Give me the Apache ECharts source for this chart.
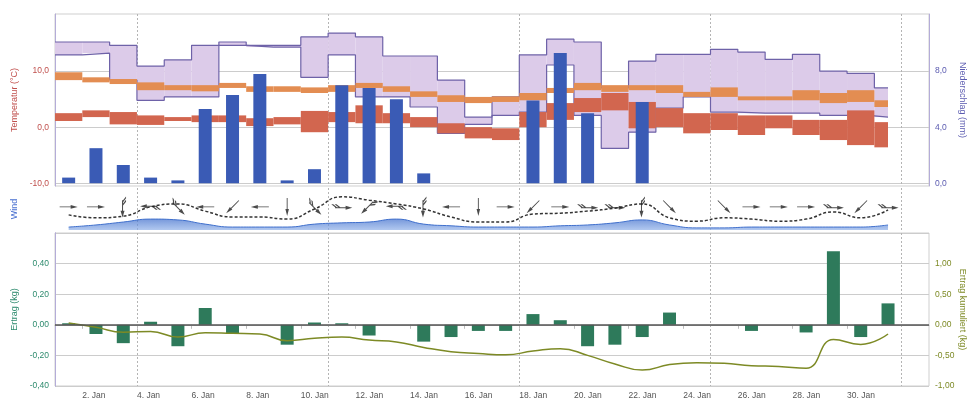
<!DOCTYPE html>
<html>
<head>
<meta charset="utf-8">
<script src="https://cdn.jsdelivr.net/npm/echarts@6/dist/echarts.min.js"></script>
<style>
  html, body { margin: 0; padding: 0; background: #fff; }
  #chart { width: 968px; height: 400px; }
</style>
</head>
<body>
<div id="chart"></div>
<script>
// Tage im Januar
const days = [1, 2, 3, 4, 5, 6, 7, 8, 9, 10, 11, 12, 13, 14, 15, 16, 17, 18, 19, 20, 21, 22, 23, 24, 25, 26, 27, 28, 29, 30, 31];
const tickDays = [2, 4, 6, 8, 10, 12, 14, 16, 18, 20, 22, 24, 26, 28, 30];
const tickLabels = ['2. Jan', '4. Jan', '6. Jan', '8. Jan', '10. Jan', '12. Jan', '14. Jan', '16. Jan', '18. Jan', '20. Jan', '22. Jan', '24. Jan', '26. Jan', '28. Jan', '30. Jan'];
const weekStarts = [4, 11, 18, 25, 32]; // Montage (32 = 1. Feb)

// Temperatur-Bänder (°C), Tageswerte
const purpleHigh = [15.2, 15.2, 14.6, 10.9, 12.0, 14.6, 15.2, 14.6, 14.6, 16.1, 16.8, 16.1, 12.7, 12.7, 8.4, 1.8, 5.4, 12.9, 15.7, 15.2, 7.0, 11.8, 13.0, 13.0, 13.9, 13.4, 12.1, 13.0, 10.0, 9.6, 7.0];
const purpleLow = [12.9, 13.2, 8.4, 4.8, 5.4, 5.4, 14.6, 14.3, 14.3, 8.9, 12.9, 5.4, 5.4, 3.6, -1.1, 0.5, 2.1, 2.7, 11.1, 2.1, -3.8, -0.9, 3.4, 5.4, 2.7, 2.5, 2.5, 2.5, 2.1, 2.0, 1.8];
const orangeHigh = [9.8, 8.9, 8.6, 8.0, 7.5, 7.5, 7.9, 7.3, 7.3, 7.1, 7.5, 7.9, 7.3, 6.4, 5.7, 5.4, 5.5, 6.1, 7.0, 7.9, 7.5, 7.5, 7.5, 6.3, 7.1, 5.5, 5.5, 6.6, 6.1, 6.6, 4.8];
const orangeLow = [8.4, 8.0, 7.7, 6.6, 6.6, 6.4, 7.0, 6.3, 6.3, 6.1, 6.3, 7.0, 6.3, 5.4, 4.5, 4.3, 4.5, 4.8, 6.1, 6.6, 6.3, 6.6, 6.1, 5.4, 5.4, 4.8, 4.8, 4.8, 4.3, 4.5, 3.6];
const redHigh = [2.5, 3.0, 2.7, 2.1, 1.8, 2.1, 2.1, 1.6, 1.8, 2.9, 2.7, 3.9, 2.5, 1.8, 0.7, 0.0, -0.2, 2.7, 4.3, 5.2, 6.1, 4.5, 3.4, 2.5, 2.5, 2.1, 2.1, 1.3, 1.3, 3.0, 0.9];
const redLow = [1.1, 1.8, 0.5, 0.4, 1.1, 0.9, 0.9, 0.2, 0.5, -0.9, 0.9, 0.7, 0.7, 0.0, -1.1, -2.0, -2.3, 0.0, 1.3, 2.7, 3.0, -0.2, 0.0, -1.1, -0.5, -1.4, -0.2, -1.4, -2.3, -3.2, -3.6];

// Niederschlag (mm)
const precip = [0.4, 2.5, 1.3, 0.4, 0.2, 5.3, 6.3, 7.8, 0.2, 1.0, 7.0, 6.8, 6.0, 0.7, 0, 0, 0, 5.9, 9.3, 5.0, 0, 5.8, 0, 0, 0, 0, 0, 0, 0, 0, 0];

// Wind
const windGust = [3.6, 2.9, 3.3, 5.5, 6.2, 4.5, 3.1, 3.1, 2.6, 5.0, 7.9, 7.1, 6.2, 5.0, 3.1, 1.9, 1.9, 3.8, 4.0, 4.5, 5.2, 6.2, 2.9, 2.1, 2.9, 2.6, 2.1, 2.6, 4.3, 2.9, 4.8];
const windMean = [0.7, 1.2, 1.9, 2.6, 2.4, 1.4, 0.7, 0.7, 0.7, 1.4, 1.7, 1.9, 2.6, 1.4, 1.0, 0.7, 0.7, 0.7, 1.0, 1.2, 1.7, 2.4, 1.2, 0.5, 0.5, 0.7, 0.7, 0.7, 0.7, 0.7, 1.2];
const windDir = [0, 0, 270, 180, 315, 180, 225, 180, 270, 315, 0, 225, 180, 270, 180, 270, 0, 225, 0, 0, 0, 270, 315, null, 315, 0, 0, 0, 0, 225, 0];
const windKind = ['a', 'a', 'b', 'b', 'b', 'a', 'a', 'a', 'a', 'b', 'b', 'b', 'b', 'b', 'a', 'a', 'a', 'a', 'a', 'b', 'b', 'b', 'a', 'c', 'a', 'a', 'a', 'a', 'b', 'a', 'b'];

// Ertrag (kg)
const yieldDay = [0.01, -0.06, -0.12, 0.02, -0.14, 0.11, -0.06, 0, -0.13, 0.015, 0.01, -0.07, 0, -0.11, -0.08, -0.04, -0.04, 0.07, 0.03, -0.14, -0.13, -0.08, 0.08, 0, 0, -0.04, 0, -0.05, 0.48, -0.08, 0.14];
const yieldCum = [0.03, -0.04, -0.12, -0.11, -0.2, -0.13, -0.14, -0.15, -0.26, -0.22, -0.2, -0.25, -0.28, -0.37, -0.44, -0.47, -0.49, -0.43, -0.39, -0.5, -0.64, -0.74, -0.65, -0.62, -0.63, -0.67, -0.68, -0.71, -0.24, -0.32, -0.15];

const FONT = 'Liberation Sans';
const ARROW = 'path://M0,3.5 L11,3.5 L11,0.5 L18,4.5 L11,8.5 L11,5.5 L0,5.5 Z';
const BARB = 'path://M0,3.5 L11,3.5 L11,0.5 L18,4.5 L11,8.5 L11,5.5 L0,5.5 Z M0,3.5 L2,3.5 L-2,-2.5 L-4,-2.5 Z M3.5,3.5 L5.5,3.5 L1.5,-2.5 L-0.5,-2.5 Z';
const ARROW_ROW = 5.5;
const LAST_END = 30.5; // Daten enden am 31. Jan mittags

const comma = (d) => (v) => v.toFixed(d).replace('.', ',');

// Stufen: Wert gilt von Tagesbeginn bis Tagesende
function stepPts(vals) {
  const pts = vals.map((v, i) => [days[i] - 1, v]);
  pts.push([LAST_END, vals[vals.length - 1]]);
  return pts;
}

// gefülltes Band als Rechteck pro Tag
function bandFill(low, high, fill, z) {
  return {
    type: 'custom', xAxisIndex: 0, yAxisIndex: 0, z: z, silent: true,
    data: days.map((d, i) => [d - 1, Math.min(d, LAST_END), low[i], high[i]]),
    encode: { x: [0, 1], y: [2, 3] },
    renderItem: (params, api) => {
      const a = api.coord([api.value(0), api.value(3)]);
      const b = api.coord([api.value(1), api.value(2)]);
      return {
        type: 'rect',
        shape: { x: a[0], y: a[1], width: b[0] - a[0], height: b[1] - a[1] },
        style: { fill: fill }
      };
    }
  };
}

function stepLine(vals, color, width, z) {
  return {
    type: 'line', xAxisIndex: 0, yAxisIndex: 0, z: z, step: 'end', symbol: 'none',
    data: stepPts(vals), lineStyle: { color: color, width: width }
  };
}

function barSeries(xi, yi, vals, color, z) {
  return {
    type: 'custom', xAxisIndex: xi, yAxisIndex: yi, z: z,
    data: days.map((d, i) => [d - 0.5, vals[i]]),
    encode: { x: 0, y: 1 },
    renderItem: (params, api) => {
      const top = api.coord([api.value(0), api.value(1)]);
      const base = api.coord([api.value(0), 0]);
      return {
        type: 'rect',
        shape: { x: top[0] - 6.5, y: Math.min(top[1], base[1]), width: 13, height: Math.abs(base[1] - top[1]) },
        style: { fill: color }
      };
    }
  };
}

const weekPos = weekStarts.map(d => d - 1);
const tickPos = tickDays.map(d => d - 1);

const hiddenX = (grid) => ({
  type: 'value', gridIndex: grid, min: 0, max: 32,
  axisLine: { show: false },
  axisTick: { show: false, customValues: weekPos },
  axisLabel: { show: false },
  splitLine: { show: true, lineStyle: { color: '#b4b4b4', type: [2, 2], width: 1 } }
});

const arrowData = days.map((d, i) => {
  if (windKind[i] === 'c') {
    return {
      value: [d - 0.5, ARROW_ROW], symbol: 'emptyCircle', symbolSize: 15,
      itemStyle: { color: '#fff', borderColor: '#222', borderWidth: 2 }
    };
  }
  return {
    value: [d - 0.5, ARROW_ROW],
    symbol: windKind[i] === 'b' ? BARB : ARROW,
    symbolSize: windKind[i] === 'b' ? [21, 11] : [18, 8],
    symbolRotate: windDir[i]
  };
});

const gridBase = { left: 55, right: 39, outerBoundsMode: 'none', containLabel: false };

const chart = echarts.init(document.getElementById('chart'));
chart.setOption({
  animation: false,
  textStyle: { fontFamily: FONT },
  grid: [
    Object.assign({ top: 14, height: 172, show: true, borderColor: '#cfcfcf', borderWidth: 1 }, gridBase),
    Object.assign({ top: 188, height: 42 }, gridBase),
    Object.assign({ top: 233, height: 153, show: true, borderColor: '#cfcfcf', borderWidth: 1 }, gridBase)
  ],
  xAxis: [
    hiddenX(0),
    hiddenX(1),
    {
      type: 'value', gridIndex: 2, min: 0, max: 32, position: 'bottom',
      axisLine: { lineStyle: { color: '#bdbdbd' } },
      axisTick: { customValues: tickPos, length: 4, lineStyle: { color: '#bdbdbd' } },
      axisLabel: {
        customValues: tickPos, align: 'left', margin: 5, fontSize: 8.5, color: '#555',
        formatter: (v) => tickLabels[tickPos.indexOf(Math.round(v))] || ''
      },
      splitLine: { show: false }
    },
    Object.assign(hiddenX(2), { position: 'top' })
  ],
  yAxis: [
    {
      type: 'value', gridIndex: 0, position: 'left', min: -10.5, max: 20.2,
      name: 'Temperatur (°C)', nameLocation: 'middle', nameGap: 36,
      nameTextStyle: { color: '#c0504d', fontSize: 9 },
      axisLine: { show: true, lineStyle: { color: '#b4acd8' } },
      axisTick: { show: false, customValues: [-10, 0, 10] },
      axisLabel: { customValues: [-10, 0, 10], formatter: comma(1), color: '#c0504d', fontSize: 8.5, margin: 6 },
      splitLine: { lineStyle: { color: '#cccccc' } }
    },
    {
      type: 'value', gridIndex: 0, position: 'right', min: -0.2, max: 12.08,
      name: 'Niederschlag (mm)', nameLocation: 'middle', nameGap: 28, nameRotate: -90,
      nameTextStyle: { color: '#5b5bb0', fontSize: 9 },
      axisLine: { show: true, lineStyle: { color: '#b4acd8' } },
      axisTick: { show: false, customValues: [0, 4, 8] },
      axisLabel: { customValues: [0, 4, 8], formatter: comma(1), color: '#5b5bb0', fontSize: 8.5, margin: 6 },
      splitLine: { show: false }
    },
    {
      type: 'value', gridIndex: 1, min: 0, max: 10,
      name: 'Wind', nameLocation: 'middle', nameGap: 36,
      nameTextStyle: { color: '#4a70d0', fontSize: 9 },
      axisLine: { show: false }, axisTick: { show: false }, axisLabel: { show: false },
      splitLine: { show: false }
    },
    {
      type: 'value', gridIndex: 2, position: 'left', min: -0.4, max: 0.6, interval: 0.2,
      name: 'Ertrag (kg)', nameLocation: 'middle', nameGap: 36,
      nameTextStyle: { color: '#2e8b6e', fontSize: 9 },
      axisLine: { show: true, lineStyle: { color: '#b4acd8' } },
      axisTick: { show: false },
      axisLabel: { formatter: comma(2), color: '#2e8b6e', fontSize: 8.5, margin: 6, showMaxLabel: false },
      splitLine: { lineStyle: { color: '#cccccc' } }
    },
    {
      type: 'value', gridIndex: 2, position: 'right', min: -1, max: 1.5, interval: 0.5,
      name: 'Ertrag kumuliert (kg)', nameLocation: 'middle', nameGap: 29, nameRotate: -90,
      nameMoveOverlap: false,
      nameTextStyle: { color: '#7d8a25', fontSize: 9 },
      axisLine: { show: true, lineStyle: { color: '#b4acd8' } },
      axisTick: { show: false },
      axisLabel: { formatter: comma(2), color: '#7d8a25', fontSize: 8.5, margin: 6, showMaxLabel: false },
      splitLine: { show: false }
    }
  ],
  series: [
    bandFill(purpleLow, purpleHigh, '#dccbe9', 1),
    stepLine(purpleLow, '#6e62a8', 1.2, 2),
    stepLine(purpleHigh, '#6e62a8', 1.2, 2),
    bandFill(orangeLow, orangeHigh, '#e38d52', 3),
    bandFill(redLow, redHigh, '#d2664f', 3),
    barSeries(0, 1, precip, '#3a5bb5', 4),
    {
      type: 'line', xAxisIndex: 1, yAxisIndex: 2, smooth: true, symbol: 'none',
      data: days.map((d, i) => [d - 0.5, windMean[i]]),
      lineStyle: { color: '#3f6fcc', width: 1 },
      areaStyle: {
        color: new echarts.graphic.LinearGradient(0, 0, 0, 1, [
          { offset: 0, color: '#3d6ccb' },
          { offset: 1, color: '#8fb0e8' }
        ])
      }
    },
    {
      type: 'line', xAxisIndex: 1, yAxisIndex: 2, smooth: true, symbol: 'none',
      data: days.map((d, i) => [d - 0.5, windGust[i]]),
      lineStyle: { color: '#333', width: 1.5, type: [3, 2] }
    },
    {
      type: 'scatter', xAxisIndex: 1, yAxisIndex: 2, z: 5, symbolKeepAspect: true,
      data: arrowData,
      itemStyle: { color: '#1e1e1e' }
    },
    Object.assign(barSeries(2, 3, yieldDay, '#2e7a5b', 3), {
      markLine: {
        silent: true, symbol: 'none', label: { show: false },
        lineStyle: { color: '#555', width: 1.5, type: 'solid' },
        data: [{ yAxis: 0 }]
      }
    }),
    {
      type: 'line', xAxisIndex: 2, yAxisIndex: 4, smooth: true, symbol: 'none', z: 4,
      data: days.map((d, i) => [d - 0.5, yieldCum[i]]),
      lineStyle: { color: '#7d8a25', width: 1.5 }
    }
  ]
});
</script>
</body>
</html>
